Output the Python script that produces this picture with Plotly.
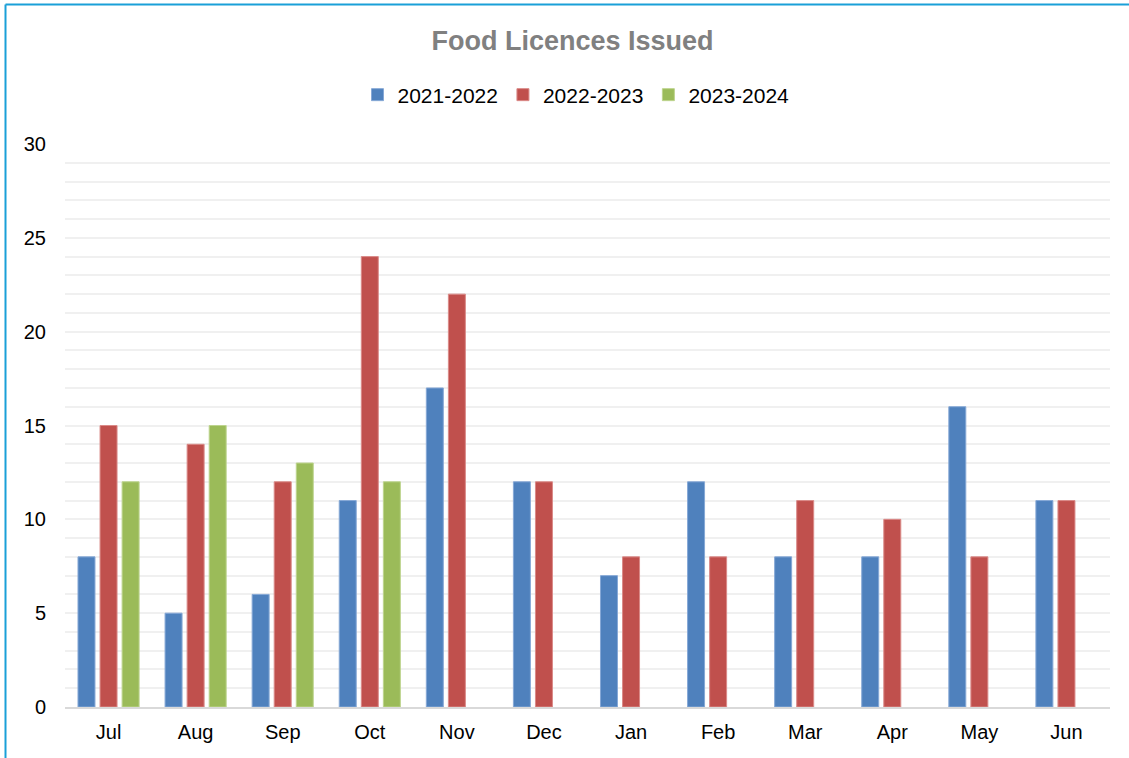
import plotly.graph_objects as go

months = ["Jul", "Aug", "Sep", "Oct", "Nov", "Dec", "Jan", "Feb", "Mar", "Apr", "May", "Jun"]
fy_2021_2022 = [8, 5, 6, 11, 17, 12, 7, 12, 8, 8, 16, 11]
fy_2022_2023 = [15, 14, 12, 24, 22, 12, 8, 8, 11, 10, 8, 11]
fy_2023_2024 = [12, 15, 13, 12, None, None, None, None, None, None, None, None]

series = [
    ("2021-2022", fy_2021_2022, "#4F81BD", "#86A8D6"),
    ("2022-2023", fy_2022_2023, "#C0504D", "#DA8A88"),
    ("2023-2024", fy_2023_2024, "#9BBB59", "#BDD48E"),
]

fig = go.Figure()
for name, vals, color, edge in series:
    fig.add_trace(go.Bar(
        x=months, y=vals, name=name,
        marker=dict(color=color, line=dict(color=edge, width=1)),
    ))

W, H = 1129, 758
L, R, T, B = 65, 19, 144, 51
pw, ph = W - L - R, H - T - B


def px_x(p):
    return (p - L) / pw


def px_y(p):
    return (H - B - p) / ph


font = "Liberation Sans, Arial, sans-serif"
fig.update_layout(
    width=W, height=H,
    margin=dict(l=L, r=R, t=T, b=B),
    paper_bgcolor="white", plot_bgcolor="white",
    font=dict(family=font, size=20, color="#000000"),
    title=dict(text="<b>Food Licences Issued</b>", x=572.5 / W, xanchor="center",
               y=1 - 41 / H, yanchor="middle",
               font=dict(size=27, color="#808080", family=font)),
    barmode="group", bargap=0.24, bargroupgap=0.23,
    showlegend=True,
    legend=dict(orientation="h", x=px_x(576), xanchor="center", y=px_y(95), yanchor="middle",
                font=dict(size=21), itemwidth=30, traceorder="normal",
                bgcolor="rgba(0,0,0,0)"),
    xaxis=dict(showgrid=False, showline=True, linecolor="#D9D9D9", linewidth=2,
               ticks="", tickfont=dict(size=20), ticklabelstandoff=6, fixedrange=True),
    yaxis=dict(range=[0, 30], dtick=5, tick0=0, showgrid=True, gridcolor="#F0F0F0",
               gridwidth=2, zeroline=False, showline=False, ticks="",
               tickfont=dict(size=20), ticklabelstandoff=18,
               minor=dict(dtick=1, tick0=0, showgrid=True, gridcolor="#F0F0F0", gridwidth=2)),
    shapes=[
        dict(type="line", xref="paper", yref="paper", x0=px_x(5.5), x1=px_x(5.5),
             y0=px_y(4.5), y1=px_y(H + 5), line=dict(color="#1AA0D8", width=2)),
        dict(type="line", xref="paper", yref="paper", x0=px_x(5.5), x1=px_x(W + 5),
             y0=px_y(4.5), y1=px_y(4.5), line=dict(color="#1AA0D8", width=2)),
    ],
)

fig.write_html("out.html")
